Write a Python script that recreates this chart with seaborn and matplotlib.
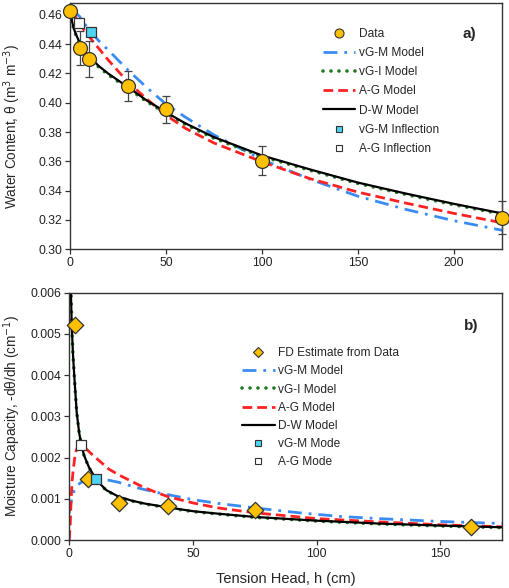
import numpy as np
import matplotlib
matplotlib.use("Agg")
import matplotlib.pyplot as plt
from matplotlib.lines import Line2D
import seaborn as sns

# ---- data ----
# panel a) water retention
h_data = [0, 5, 10, 30, 50, 100, 225]
theta_data = [0.4625, 0.4372, 0.4298, 0.4115, 0.3955, 0.3605, 0.3215]
theta_err = [0, 0.0115, 0.012, 0.0103, 0.0093, 0.010, 0.0113]

h_dw_a = [0, 1, 2, 3, 5, 7.5, 10, 15, 20, 30, 40, 50, 60, 75, 100, 125, 150, 175, 200, 225]
th_dw = [0.4625, 0.4558, 0.4505, 0.4470, 0.4410, 0.4355, 0.4315, 0.4250, 0.4198, 0.4108,
         0.4015, 0.3935, 0.3860, 0.3765, 0.3640, 0.3545, 0.3455, 0.3380, 0.3310, 0.3245]
th_vgi = [0.4625, 0.4552, 0.4500, 0.4463, 0.4403, 0.4348, 0.4308, 0.4243, 0.4190, 0.4100,
          0.4007, 0.3927, 0.3852, 0.3757, 0.3633, 0.3539, 0.3449, 0.3374, 0.3304, 0.3240]

h_ag_a = [0, 2, 4.6, 7.5, 10, 15, 20, 30, 40, 50, 60, 75, 100, 125, 150, 175, 200, 225]
th_ag = [0.4625, 0.4603, 0.4545, 0.4492, 0.4450, 0.4370, 0.4290, 0.4143, 0.4025, 0.3915,
         0.3826, 0.3725, 0.3597, 0.3482, 0.3390, 0.3315, 0.3245, 0.3181]

h_vgm_a = [0, 2.5, 5, 7.5, 10.7, 15, 20, 30, 40, 50, 60, 75, 100, 125, 150, 175, 200, 225]
th_vgm = [0.4630, 0.4618, 0.4588, 0.4540, 0.4484, 0.4422, 0.4358, 0.4225, 0.4103, 0.3990,
          0.3902, 0.3780, 0.3612, 0.3478, 0.3362, 0.3272, 0.3195, 0.3130]

infl_vgm = (10.7, 0.4484)
infl_ag = (4.6, 0.4545)

# panel b) moisture capacity
h_fd = [2.5, 7.5, 20, 40, 75, 162.5]
c_fd = [0.00522, 0.00147, 0.00091, 0.00082, 0.00072, 0.00032]

h_dw_b = [0.5, 1, 1.5, 2, 3, 4, 5, 6, 8, 10, 12, 15, 20, 25, 30, 40, 50, 60, 75, 100, 125, 150, 175]
c_dw = [0.0064, 0.0052, 0.0045, 0.0040, 0.0031, 0.0026, 0.00228, 0.00205, 0.00176, 0.00156,
        0.00139, 0.00121, 0.00105, 0.00096, 0.00089, 0.00079, 0.00070, 0.00064, 0.00056,
        0.00047, 0.00040, 0.00035, 0.00031]
c_vgi = [0.0065, 0.0052, 0.0045, 0.0040, 0.0031, 0.0026, 0.00227, 0.00204, 0.00175, 0.00155,
         0.00138, 0.00120, 0.00104, 0.00095, 0.00088, 0.00078, 0.00069, 0.00063, 0.00055,
         0.00046, 0.00039, 0.00034, 0.00030]

h_ag_b = [0, 0.4, 0.7, 1.1, 1.6, 2.4, 3.3, 4.6, 6.7, 10, 12, 16, 20, 25, 30, 35, 40, 50, 60, 75, 100, 125, 150, 175]
c_ag = [0.0, 0.0004, 0.0009, 0.0014, 0.0017, 0.0021, 0.00225, 0.0023, 0.00222, 0.00203,
        0.00193, 0.00172, 0.00158, 0.00143, 0.00128, 0.00116, 0.00105, 0.00090, 0.00078,
        0.00066, 0.00052, 0.00044, 0.00037, 0.00032]

h_vgm_b = [0, 0.5, 1, 2, 3, 4.5, 7, 10.7, 13, 16, 20, 25, 30, 35, 40, 50, 60, 75, 93, 110, 125, 150, 175]
c_vgm = [0.00065, 0.00085, 0.00100, 0.00120, 0.00130, 0.00139, 0.00145, 0.00147, 0.00147,
         0.00145, 0.00140, 0.00131, 0.00123, 0.00116, 0.00110, 0.00098, 0.00089, 0.00078,
         0.00066, 0.00057, 0.00052, 0.00045, 0.00040]

mode_vgm = (10.7, 0.00147)
mode_ag = (4.6, 0.0023)

# ---- style ----
sns.set_theme(style="ticks")
plt.rcParams["font.family"] = ["Liberation Sans", "DejaVu Sans"]

ORANGE = "#FFC000"
CYAN = "#4FD3F2"
BLUE = "#3A8CF5"
GREEN = "#1F7A1F"
RED = "#FF2222"

line_styles = {
    "vgm": dict(color=BLUE, lw=2.0, linestyle=(0, (5, 2.5, 1, 2.5))),
    "vgi": dict(color=GREEN, lw=2.6, linestyle=(0, (0.01, 2.2)), dash_capstyle="round"),
    "ag": dict(color=RED, lw=2.0, linestyle=(0, (3.5, 1.8))),
    "dw": dict(color="black", lw=1.6, linestyle="-"),
}

fig = plt.figure(figsize=(5.09, 5.88), dpi=100)
ax1 = fig.add_axes([0.1375, 0.576, 0.8487, 0.4189])
ax2 = fig.add_axes([0.1361, 0.0816, 0.8501, 0.4206])


def draw_curves(ax, curves):
    for key, x, y in curves:
        sns.lineplot(x=x, y=y, ax=ax, sort=False, zorder=2, **line_styles[key])


def style_axis(ax):
    for sp in ax.spines.values():
        sp.set_color("#333333")
        sp.set_linewidth(1.0)
    ax.tick_params(axis="both", direction="out", length=3.5, width=0.9,
                   colors="#333333", labelcolor="#222222", labelsize=8.8, pad=2)


# ---- panel a ----
draw_curves(ax1, [("vgm", h_vgm_a, th_vgm), ("vgi", h_dw_a, th_vgi),
                  ("ag", h_ag_a, th_ag), ("dw", h_dw_a, th_dw)])
ax1.errorbar(h_data, theta_data, yerr=theta_err, fmt="none", ecolor="#444444",
             elinewidth=0.9, capsize=3, capthick=0.9, zorder=3, clip_on=False)
sns.scatterplot(x=h_data, y=theta_data, ax=ax1, s=100, color=ORANGE,
                edgecolor="#333333", linewidth=0.9, zorder=5, clip_on=False)
ax1.plot(*infl_vgm, marker="s", ms=7, mfc=CYAN, mec="#333333", mew=0.9, zorder=6, ls="none")
ax1.plot(*infl_ag, marker="s", ms=7, mfc="white", mec="#333333", mew=0.9, zorder=6, ls="none")

ax1.set_xlim(0, 225)
ax1.set_ylim(0.30, 0.468)
ax1.set_xticks([0, 50, 100, 150, 200])
ax1.set_yticks(np.arange(0.30, 0.4601, 0.02))
ax1.yaxis.set_major_formatter(matplotlib.ticker.FormatStrFormatter("%.2f"))
ax1.set_ylabel("Water Content, θ (m$^3$ m$^{-3}$)", fontsize=9.8)
ax1.yaxis.set_label_coords(-0.108, 0.5)
style_axis(ax1)
ax1.text(0.9245, 0.876, "a)", transform=ax1.transAxes, fontsize=11, fontweight="bold",
         ha="center", va="center")


def model_handles(first, last):
    hs = [first,
          Line2D([], [], **line_styles["vgm"]),
          Line2D([], [], **line_styles["vgi"]),
          Line2D([], [], **line_styles["ag"]),
          Line2D([], [], **line_styles["dw"])]
    hs += last
    return hs


sq_cyan = Line2D([], [], marker="s", ms=5, mfc=CYAN, mec="#333333", mew=0.8, ls="none")
sq_white = Line2D([], [], marker="s", ms=5, mfc="white", mec="#333333", mew=0.8, ls="none")

h1 = model_handles(Line2D([], [], marker="o", ms=6.5, mfc=ORANGE, mec="#333333", mew=0.8, ls="none"),
                   [sq_cyan, sq_white])
l1 = ["Data", "vG-M Model", "vG-I Model", "A-G Model", "D-W Model",
      "vG-M Inflection", "A-G Inflection"]
ax1.legend(h1, l1, loc="upper left", bbox_to_anchor=(0.585, 0.899), frameon=False,
           fontsize=8.6, handlelength=2.7, handletextpad=0.3, labelspacing=0.6,
           borderpad=0, borderaxespad=0)

# ---- panel b ----
draw_curves(ax2, [("vgm", h_vgm_b, c_vgm), ("vgi", h_dw_b, c_vgi),
                  ("ag", h_ag_b, c_ag), ("dw", h_dw_b, c_dw)])
sns.scatterplot(x=h_fd, y=c_fd, ax=ax2, marker="D", s=70, color=ORANGE,
                edgecolor="#333333", linewidth=0.9, zorder=5, clip_on=False)
ax2.plot(*mode_vgm, marker="s", ms=7, mfc=CYAN, mec="#333333", mew=0.9, zorder=6, ls="none")
ax2.plot(*mode_ag, marker="s", ms=7, mfc="white", mec="#333333", mew=0.9, zorder=6, ls="none")

ax2.set_xlim(0, 175)
ax2.set_ylim(0, 0.006)
ax2.set_xticks([0, 50, 100, 150])
ax2.set_yticks(np.arange(0, 0.00601, 0.001))
ax2.yaxis.set_major_formatter(matplotlib.ticker.FormatStrFormatter("%.3f"))
ax2.set_ylabel("Moisture Capacity, -dθ/dh (cm$^{-1}$)", fontsize=9.8)
ax2.yaxis.set_label_coords(-0.108, 0.5)
ax2.set_xlabel("Tension Head, h (cm)", fontsize=10.5, labelpad=9)
style_axis(ax2)
ax2.text(0.9295, 0.867, "b)", transform=ax2.transAxes, fontsize=11, fontweight="bold",
         ha="center", va="center")

h2 = model_handles(Line2D([], [], marker="D", ms=5, mfc=ORANGE, mec="#333333", mew=0.8, ls="none"),
                   [sq_cyan, sq_white])
l2 = ["FD Estimate from Data", "vG-M Model", "vG-I Model", "A-G Model", "D-W Model",
      "vG-M Mode", "A-G Mode"]
ax2.legend(h2, l2, loc="upper left", bbox_to_anchor=(0.40, 0.78), frameon=False,
           fontsize=8.6, handlelength=2.7, handletextpad=0.3, labelspacing=0.52,
           borderpad=0, borderaxespad=0)

fig.savefig("out.png", dpi=100)
